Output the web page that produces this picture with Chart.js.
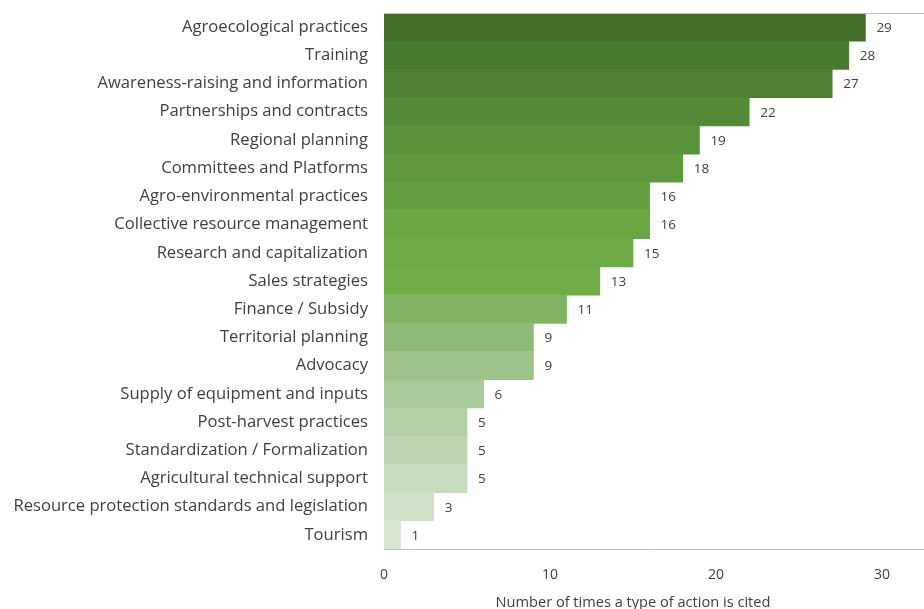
<!DOCTYPE html>
<html>
<head>
<meta charset="utf-8">
<script src="https://cdn.jsdelivr.net/npm/chart.js@4.4.0/dist/chart.umd.min.js"></script>
<style>
  html, body { margin: 0; padding: 0; background: #fff; overflow: hidden; }
  #wrap { width: 924px; height: 609px; }
</style>
</head>
<body>
<div id="wrap"><canvas id="chart"></canvas></div>
<script>
const categories = [
  'Agroecological practices',
  'Training',
  'Awareness-raising and information',
  'Partnerships and contracts',
  'Regional planning',
  'Committees and Platforms',
  'Agro-environmental practices',
  'Collective resource management',
  'Research and capitalization',
  'Sales strategies',
  'Finance / Subsidy',
  'Territorial planning',
  'Advocacy',
  'Supply of equipment and inputs',
  'Post-harvest practices',
  'Standardization / Formalization',
  'Agricultural technical support',
  'Resource protection standards and legislation',
  'Tourism'
];
const citations = [29, 28, 27, 22, 19, 18, 16, 16, 15, 13, 11, 9, 9, 6, 5, 5, 5, 3, 1];
const barColors = [
  '#446f2b', '#487a30', '#4e8033', '#558a38', '#5a913b', '#5f983d',
  '#64a040', '#68a642', '#6caa45', '#70ad47', '#80b462', '#8fba78',
  '#9dc38a', '#a9ca9b', '#b4d0a6', '#bed6b2', '#c7dbbd', '#d0e2c7', '#d8e6d0'
];
const xTicks = [0, 10, 20, 30];
const xTitle = 'Number of times a type of action is cited';

const textColor = '#404040';
const lineColor = '#c0c0c0';

const extras = {
  id: 'extras',
  afterDatasetsDraw(chart) {
    const { ctx, chartArea } = chart;
    const meta = chart.getDatasetMeta(0);
    ctx.save();
    // top frame line
    ctx.strokeStyle = lineColor;
    ctx.lineWidth = 1;
    ctx.beginPath();
    ctx.moveTo(chartArea.left, chartArea.top + 0.5);
    ctx.lineTo(chartArea.right, chartArea.top + 0.5);
    ctx.stroke();
    // value labels
    ctx.fillStyle = textColor;
    ctx.font = '13.5px "Open Sans", sans-serif';
    ctx.textAlign = 'left';
    ctx.textBaseline = 'middle';
    meta.data.forEach((bar, i) => {
      ctx.fillText(String(citations[i]), bar.x + 11, bar.y + 1);
    });
    // axis title
    ctx.font = '14.6px "Open Sans", sans-serif';
    ctx.textAlign = 'center';
    ctx.textBaseline = 'alphabetic';
    const xs = chart.scales.x;
    ctx.fillText(xTitle, (xs.getPixelForValue(0) + xs.getPixelForValue(30)) / 2, 607);
    ctx.restore();
  }
};

new Chart(document.getElementById('chart'), {
  type: 'bar',
  data: {
    labels: categories,
    datasets: [{
      data: citations,
      backgroundColor: barColors,
      borderWidth: 0,
      categoryPercentage: 1,
      barPercentage: 1
    }]
  },
  options: {
    indexAxis: 'y',
    responsive: true,
    maintainAspectRatio: false,
    animation: false,
    layout: { padding: { top: 13, right: 0, left: 0, bottom: 0 } },
    plugins: {
      legend: { display: false },
      tooltip: { enabled: false }
    },
    scales: {
      x: {
        min: 0,
        max: 32.53,
        grid: { display: false, drawTicks: false },
        border: { display: true, color: lineColor, width: 1 },
        afterBuildTicks(scale) { scale.ticks = xTicks.map(v => ({ value: v })); },
        afterFit(scale) { scale.height = 60; scale.paddingLeft = 0; scale.paddingRight = 0; },
        ticks: {
          color: textColor,
          padding: 18,
          font: { family: '"Open Sans", sans-serif', size: 14 }
        }
      },
      y: {
        grid: { display: false, drawTicks: false },
        border: { display: true, color: lineColor, width: 1 },
        afterFit(scale) { scale.width = 384; scale.paddingTop = 0; scale.paddingBottom = 0; },
        ticks: {
          color: textColor,
          padding: 16,
          autoSkip: false,
          font: { family: '"Open Sans", sans-serif', size: 16.6 }
        }
      }
    }
  },
  plugins: [extras]
});
</script>
</body>
</html>
